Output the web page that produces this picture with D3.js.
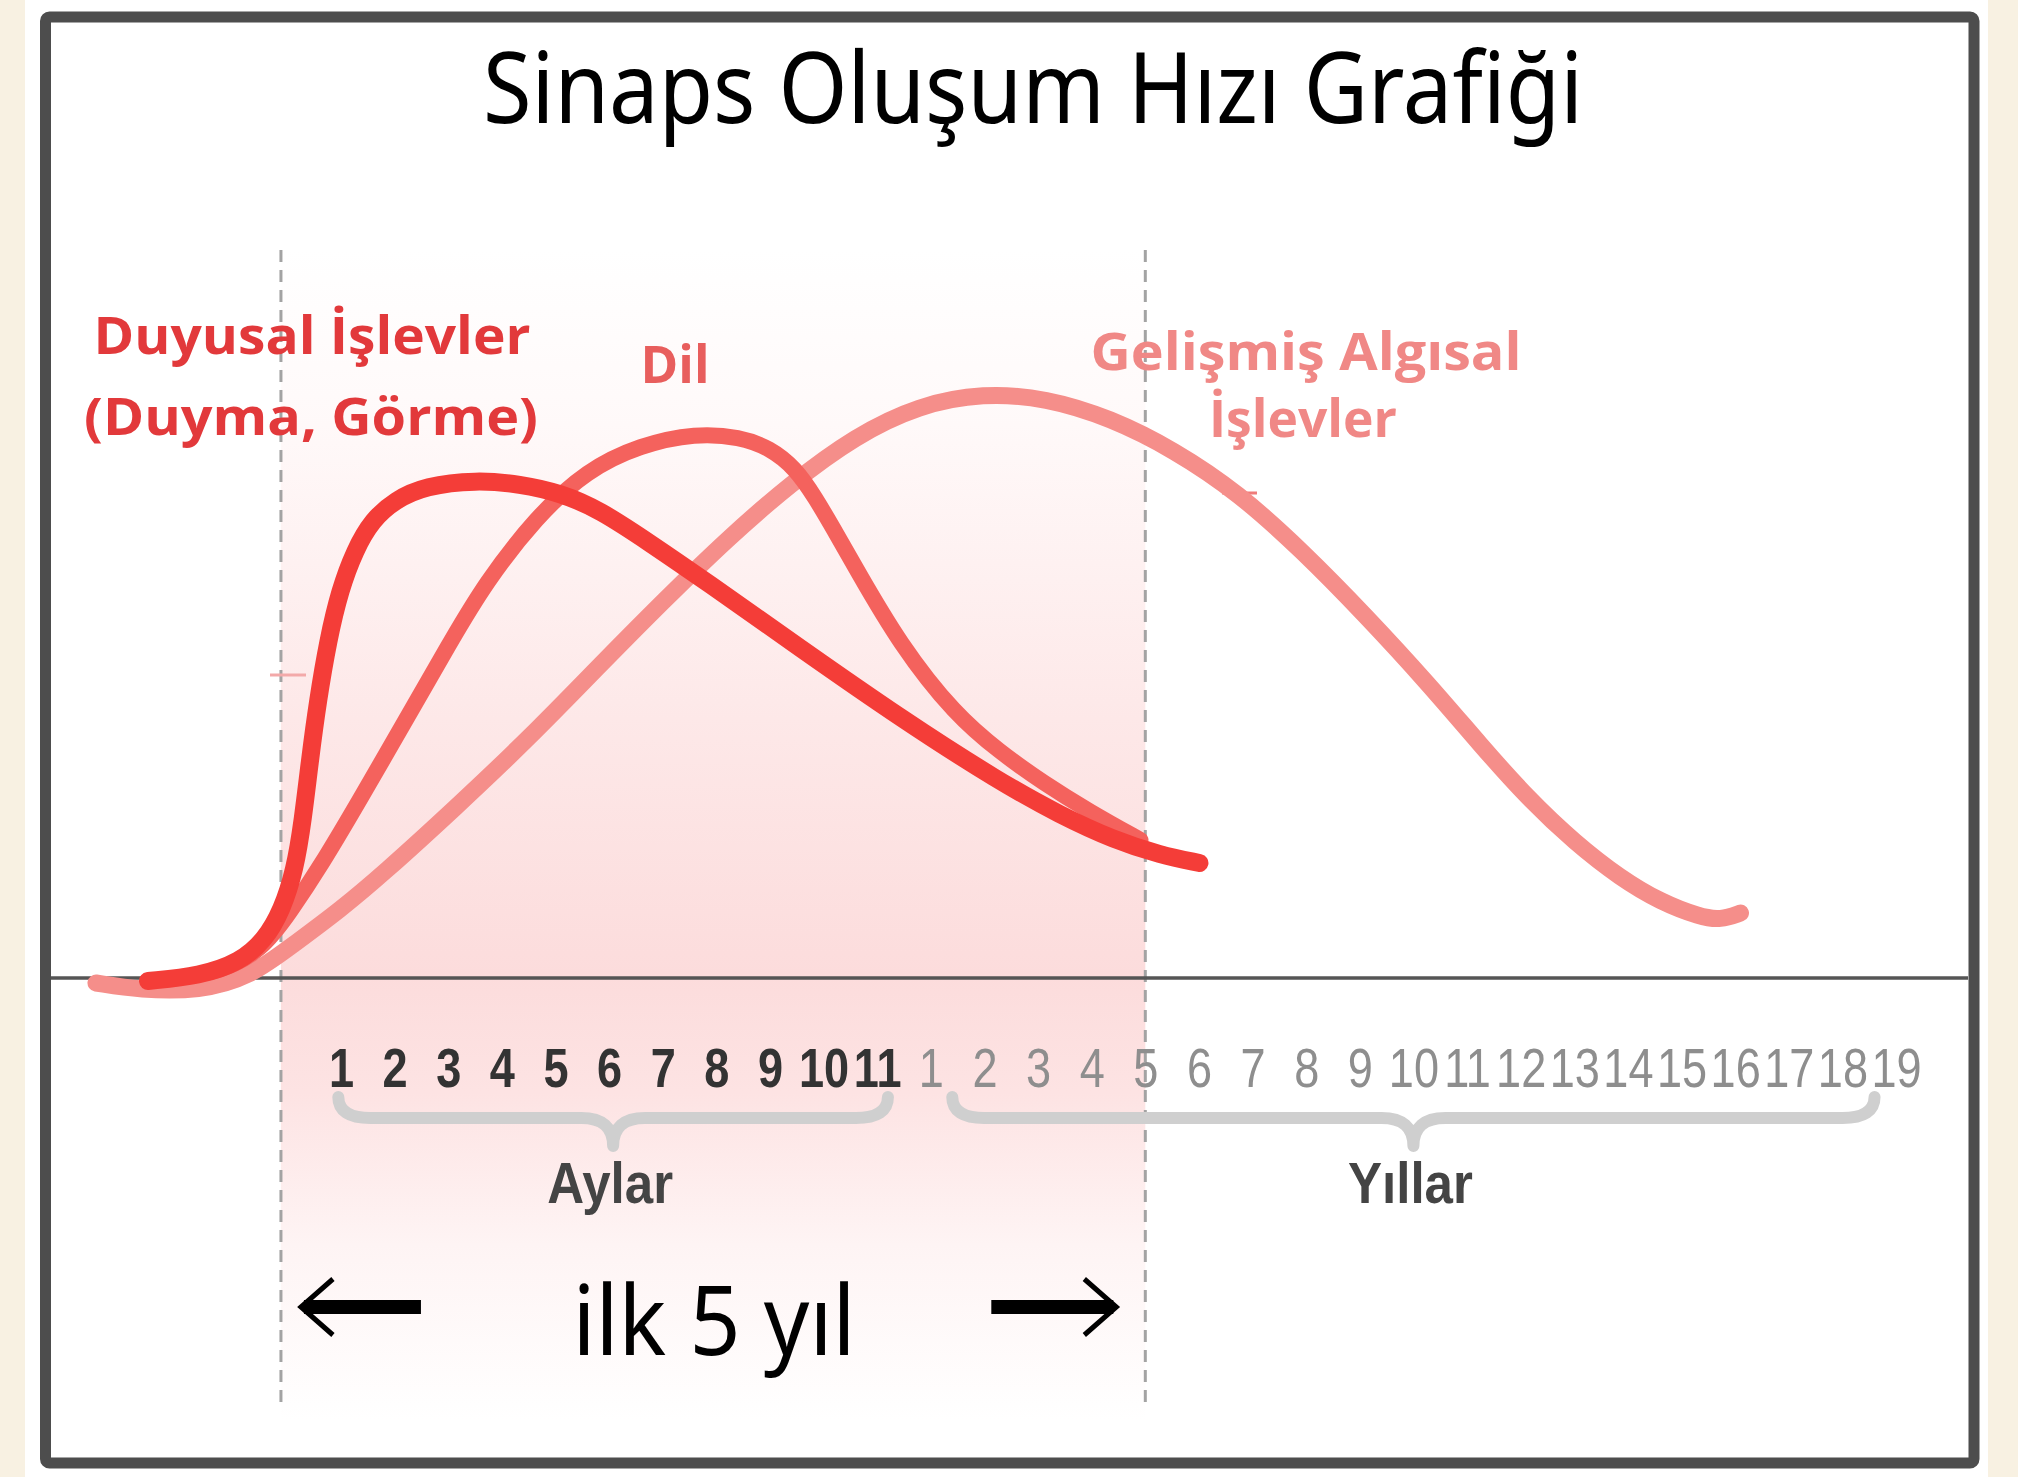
<!DOCTYPE html>
<html><head><meta charset="utf-8">
<script src="https://cdn.jsdelivr.net/npm/d3@7"></script>
<style>html,body{margin:0;padding:0;background:#fff;}svg{display:block}</style>
</head><body>
<svg id="c" width="2018" height="1477"></svg>
<script>
// ---------- data ----------
const chartTitle = "Sinaps Oluşum Hızı Grafiği";
const monthLabels = ["1","2","3","4","5","6","7","8","9","10","11"];
const yearLabels = ["1","2","3","4","5","6","7","8","9","10","11","12","13","14","15","16","17","18","19"];
const groupLabels = ["Aylar", "Yıllar"];
const spanLabel = "ilk 5 yıl";
// boundaries on the tick-index axis (birth, 5th year)
const periodBounds = [-1.12, 15];

// curves: [tick index, synapse formation rate]
const duyusalPoints = [[-3.60,-0.44],[-2.63,0.29],[-1.88,2.36],[-1.42,5.60],[-1.10,10.03],[-0.86,15.93],[-0.71,23.3],[-0.58,32.15],[-0.43,41.0],[-0.24,49.85],[-0.02,57.23],[0.26,63.13],[0.58,67.55],[1.01,70.5],[1.57,72.57],[2.52,73.45],[3.34,72.86],[4.10,71.53],[4.83,69.03],[5.76,64.16],[6.77,58.7],[8.56,48.67],[10.43,38.35],[12.29,28.91],[13.41,24.04],[14.42,20.35],[15.28,18.14],[16.01,16.96]];
const dilPoints = [[-3.38,-0.29],[-2.26,0.74],[-1.47,4.13],[-0.95,9.73],[-0.39,16.37],[0.35,26.25],[1.42,41.0],[2.03,49.41],[2.69,58.26],[3.64,67.99],[4.59,74.93],[5.58,78.61],[6.62,80.38],[7.44,79.79],[8.00,78.17],[8.47,75.22],[8.84,70.94],[9.22,65.78],[9.59,60.62],[10.43,49.12],[11.46,38.79],[12.29,33.33],[13.10,28.76],[13.97,24.48],[14.91,20.35]];
const gelismisPoints = [[-4.57,-0.74],[-3.75,-1.77],[-2.63,-1.92],[-1.70,0.15],[-0.90,4.87],[-0.02,10.03],[0.78,15.34],[2.13,25.07],[3.53,35.55],[4.83,46.17],[6.03,55.75],[7.22,64.9],[8.40,73.01],[9.59,79.94],[10.78,84.51],[11.98,86.28],[13.15,85.55],[14.35,82.6],[15.54,77.88],[16.74,71.53],[17.93,62.98],[19.10,53.54],[20.30,43.22],[21.25,34.37],[22.13,26.55],[23.02,19.91],[23.86,14.75],[24.61,11.21],[25.35,9.0],[25.73,8.55],[26.10,9.59]];

// ---------- setup ----------
const svg = d3.select("#c");
const x = d3.scaleLinear().domain([0, 29]).range([341, 1896]);
const y = d3.scaleLinear().domain([0, 100]).range([978, 300]);

const defs = svg.append("defs");
const grad = defs.append("linearGradient").attr("id","shade").attr("x1",0).attr("y1",0).attr("x2",0).attr("y2",1);
[[0,"#ffffff"],[0.15,"#fff9f9"],[0.4,"#fde8e8"],[0.62,"#fcdcdc"],[0.72,"#fde3e3"],[0.85,"#fef4f4"],[1,"#ffffff"]]
  .forEach(([o,c]) => grad.append("stop").attr("offset",o).attr("stop-color",c));

// beige page strips
svg.append("rect").attr("x",0).attr("y",0).attr("width",25).attr("height",1477).attr("fill","#f8f1e2");
svg.append("rect").attr("x",1988).attr("y",0).attr("width",30).attr("height",1477).attr("fill","#f8f1e2");

// frame
svg.append("rect").attr("x",45.5).attr("y",17).attr("width",1928.5).attr("height",1446)
  .attr("rx",4).attr("fill","#ffffff").attr("stroke","#4d4d4d").attr("stroke-width",11);

// shaded first-5-years band
svg.append("rect").attr("x", x(periodBounds[0])).attr("y", 250)
  .attr("width", x(periodBounds[1]) - x(periodBounds[0])).attr("height", 1170)
  .attr("fill","url(#shade)");

// dashed boundaries
svg.selectAll("line.bound").data(periodBounds).join("line").attr("class","bound")
  .attr("x1", d => x(d)).attr("x2", d => x(d)).attr("y1", 250).attr("y2", 1402)
  .attr("stroke","#a3a3a3").attr("stroke-width",3).attr("stroke-dasharray","12,8");

// baseline axis
svg.append("line").attr("x1",51).attr("x2",1968).attr("y1",y(0)).attr("y2",y(0))
  .attr("stroke","#555").attr("stroke-width",3.5);

// small stray ticks seen in the original
svg.append("line").attr("x1",270).attr("x2",306).attr("y1",675).attr("y2",675).attr("stroke","#f3a9a9").attr("stroke-width",3);
svg.append("line").attr("x1",1222).attr("x2",1257).attr("y1",493).attr("y2",493).attr("stroke","#ef7c7a").attr("stroke-width",3);

// curves
const line = d3.line().x(d => x(d[0])).y(d => y(d[1])).curve(d3.curveBasis);
const series = [
  {pts: gelismisPoints, color: "#f58e8a", w: 17},
  {pts: dilPoints, color: "#f4625d", w: 16},
  {pts: duyusalPoints, color: "#f43d38", w: 18}
];
svg.selectAll("path.curve").data(series).join("path").attr("class","curve")
  .attr("d", d => line(d.pts)).attr("fill","none")
  .attr("stroke", d => d.color).attr("stroke-width", d => d.w)
  .attr("stroke-linecap","round").attr("stroke-linejoin","round");

// title
svg.append("text").attr("x",1033).attr("y",123).attr("text-anchor","middle")
  .attr("font-family","'Noto Sans', 'Open Sans', sans-serif").attr("font-size",98)
  .attr("textLength",1100).attr("lengthAdjust","spacingAndGlyphs").attr("fill","#000")
  .text(chartTitle);

// series labels
const lab = (t, cx, by, len, col) => svg.append("text").attr("x",cx).attr("y",by)
  .attr("text-anchor","middle").attr("font-family","'Open Sans', 'Noto Sans', sans-serif")
  .attr("font-weight",700).attr("font-size",52).attr("fill",col)
  .attr("textLength",len).attr("lengthAdjust","spacingAndGlyphs").text(t);
lab("Duyusal İşlevler", 312, 354, 437, "#e2393b");
lab("(Duyma, Görme)", 311, 435, 454, "#e2393b");
lab("Dil", 675, 383, 69, "#e85e5d");
lab("Gelişmiş Algısal", 1306, 370, 431, "#f08886");
lab("İşlevler", 1303, 437, 188, "#f08886");

// tick labels via axis
const allLabels = monthLabels.concat(yearLabels);
const axis = d3.axisBottom(x).tickValues(d3.range(allLabels.length))
  .tickFormat(i => allLabels[i]).tickSize(0).tickPadding(0);
const ag = svg.append("g").attr("transform","translate(0,1087)").call(axis);
ag.select(".domain").remove();
ag.attr("font-size",null).attr("font-family",null);
ag.selectAll("text").attr("y",0).attr("dy",0).attr("x",0)
  .attr("font-family","'Liberation Sans', Arial, sans-serif").attr("font-size",55)
  .attr("transform","scale(0.82,1)")
  .attr("font-weight", (d) => d < monthLabels.length ? 700 : 400)
  .attr("fill", (d) => d < monthLabels.length ? "#333333" : "#8e8e8e");

// braces
function brace(x1, x2, tip){
  const y0 = 1097, y1 = 1118, yt = 1146, r = 32;
  return `M${x1},${y0} Q${x1},${y1} ${x1+r},${y1} L${tip-r},${y1} Q${tip},${y1} ${tip},${yt} Q${tip},${y1} ${tip+r},${y1} L${x2-r},${y1} Q${x2},${y1} ${x2},${y0}`;
}
const braces = [
  {a: x(-0.05), b: x(10.2), lbl: groupLabels[0]},
  {a: x(11.4), b: x(28.6), lbl: groupLabels[1]}
];
svg.selectAll("path.brace").data(braces).join("path").attr("class","brace")
  .attr("d", d => brace(d.a, d.b, (d.a + d.b)/2)).attr("fill","none")
  .attr("stroke","#cfcfcf").attr("stroke-width",12).attr("stroke-linecap","round").attr("stroke-linejoin","round");
svg.selectAll("text.grp").data(braces).join("text").attr("class","grp")
  .attr("transform", d => `translate(${(d.a+d.b)/2 - 3},1203) scale(0.88,1)`)
  .attr("text-anchor","middle").attr("font-family","'Liberation Sans', Arial, sans-serif")
  .attr("font-weight",700).attr("font-size",58).attr("fill","#444")
  .text(d => d.lbl);

// "ilk 5 yıl" with arrows
const cy = 1307;
svg.append("text").attr("x",714).attr("y",1355).attr("text-anchor","middle")
  .attr("font-family","'Noto Sans', 'Open Sans', sans-serif").attr("font-size",96)
  .attr("textLength",283).attr("lengthAdjust","spacingAndGlyphs").attr("fill","#000").text(spanLabel);
const la = x(periodBounds[0]) + 19, ra = x(periodBounds[1]) - 28;
svg.append("line").attr("x1",la+4).attr("x2",la+121).attr("y1",cy).attr("y2",cy).attr("stroke","#000").attr("stroke-width",14);
svg.append("path").attr("d",`M${la+33},${cy-28} L${la+1},${cy} L${la+33},${cy+28}`).attr("fill","none").attr("stroke","#000").attr("stroke-width",5);
svg.append("line").attr("x1",ra-126).attr("x2",ra-4).attr("y1",cy).attr("y2",cy).attr("stroke","#000").attr("stroke-width",14);
svg.append("path").attr("d",`M${ra-33},${cy-28} L${ra-1},${cy} L${ra-33},${cy+28}`).attr("fill","none").attr("stroke","#000").attr("stroke-width",5);
</script>
</body></html>
